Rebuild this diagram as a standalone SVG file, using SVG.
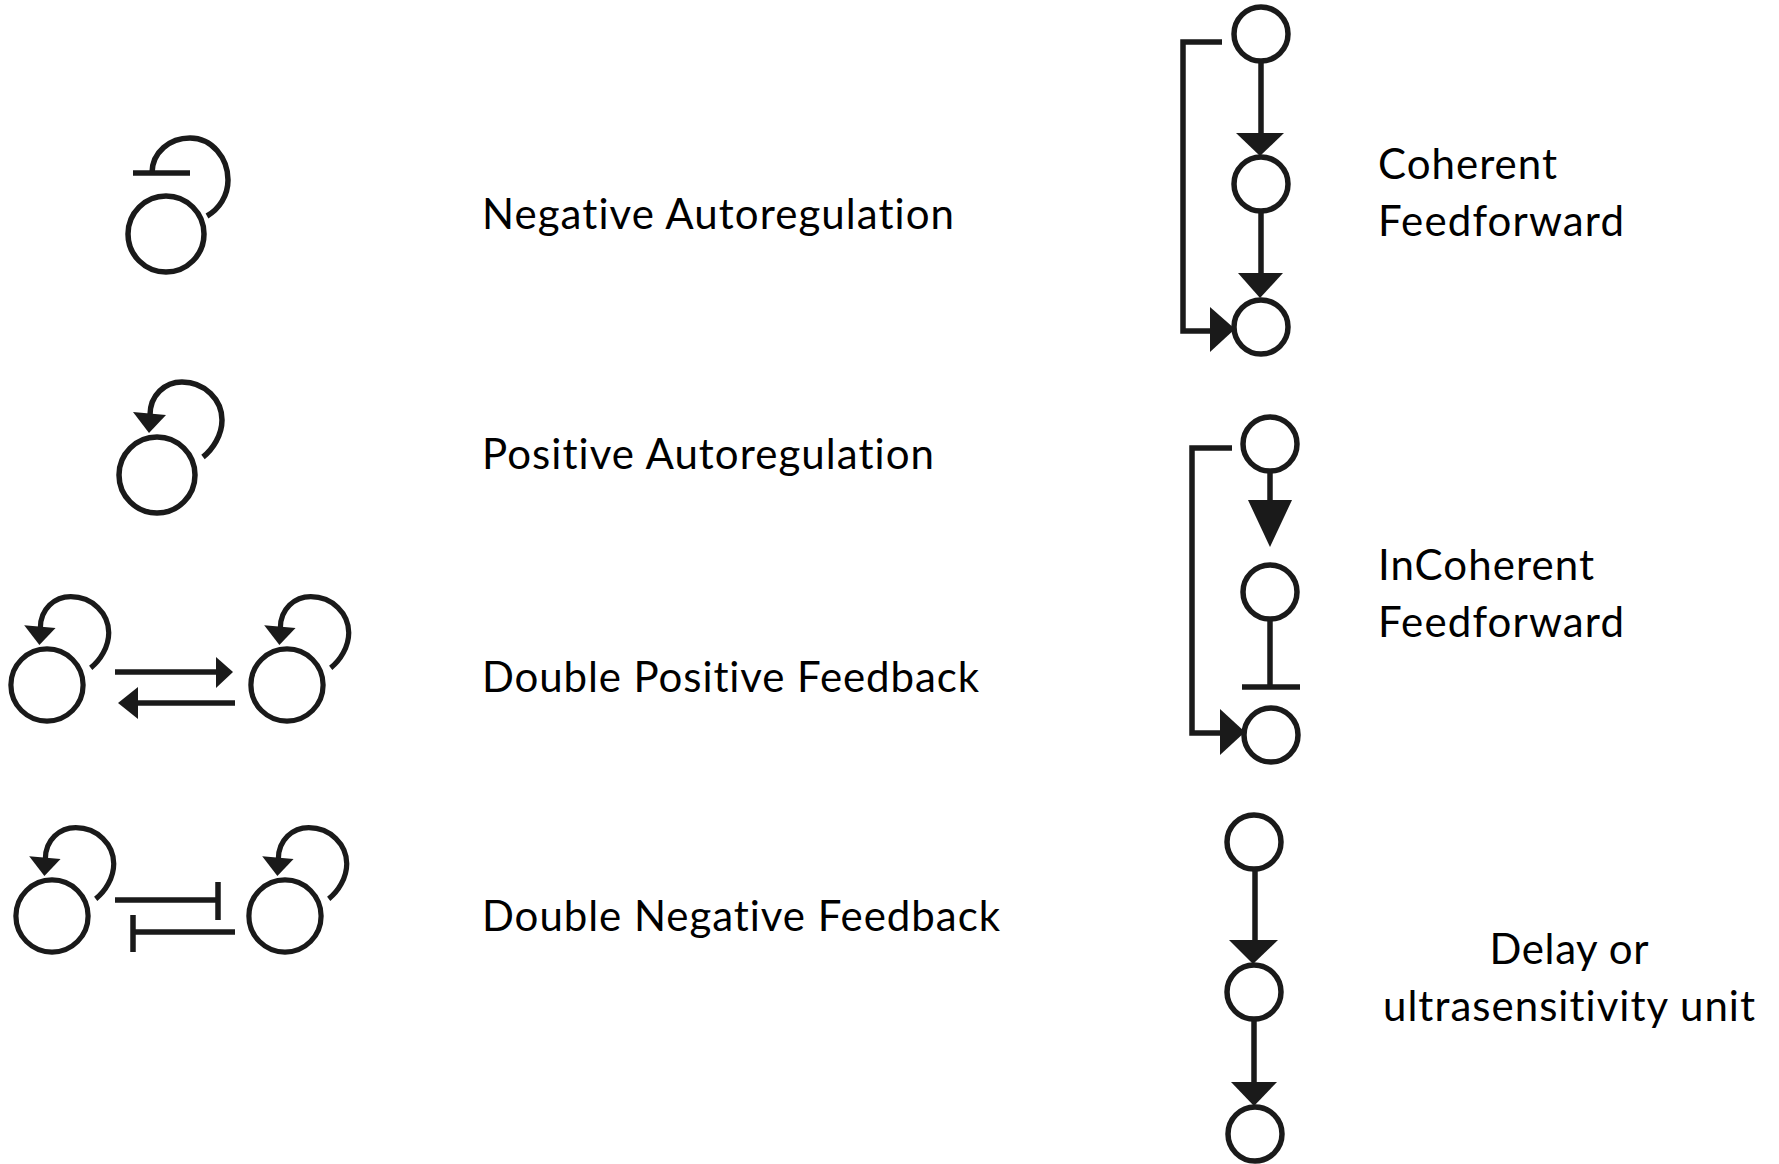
<svg xmlns="http://www.w3.org/2000/svg" xmlns:xlink="http://www.w3.org/1999/xlink" width="1779" height="1164" viewBox="0 0 1779 1164">
<style>
.ln{fill:none;stroke:#1a1a1a;stroke-width:5.5;stroke-linecap:butt;stroke-linejoin:miter}
.nd{fill:#fff;stroke:#1a1a1a;stroke-width:5.5}
.ah{fill:#1a1a1a;stroke:none}
.lb{font-family:Lato,"Open Sans","Liberation Sans",sans-serif;font-size:42px;fill:#000;font-variant-ligatures:none;font-feature-settings:"liga" 0,"clig" 0}
</style>
<defs>
<g id="posloop">
<circle class="nd" cx="0" cy="0" r="38"/>
<path class="ln" d="M-7,-60 C-7,-80 8,-93 25,-93 C48,-93 65,-75 65,-55 C65,-40 56,-26 46,-18"/>
<polygon class="ah" points="-24,-63 9,-60 -8,-42"/>
</g>
</defs>
<rect width="1779" height="1164" fill="#fff"/>

<g id="negative-autoregulation">
<circle class="nd" cx="166" cy="234" r="38"/>
<path class="ln" d="M152,173 C152,152 170,138 190,138 C212,138 228,158 228,180 C228,196 219,209 207,216"/>
<line class="ln" x1="133" y1="173" x2="190" y2="173"/>
</g>

<g id="positive-autoregulation">
<use xlink:href="#posloop" transform="translate(157,475)"/>
</g>

<g id="dpf-left"><use xlink:href="#posloop" transform="translate(47,685) scale(0.95)"/></g>
<g id="dpf-right"><use xlink:href="#posloop" transform="translate(287,685) scale(0.95)"/></g>
<g id="dnf-left"><use xlink:href="#posloop" transform="translate(52,916) scale(0.95)"/></g>
<g id="dnf-right"><use xlink:href="#posloop" transform="translate(285,916) scale(0.95)"/></g>

<g id="cff-a"><circle class="nd" cx="1261" cy="34" r="27"/></g>
<g id="cff-b"><circle class="nd" cx="1261" cy="184" r="27"/></g>
<g id="cff-c"><circle class="nd" cx="1261" cy="327" r="27"/></g>

<g id="iff-a"><circle class="nd" cx="1270" cy="444" r="27"/></g>
<g id="iff-b"><circle class="nd" cx="1270" cy="592" r="27"/></g>
<g id="iff-c"><circle class="nd" cx="1271" cy="735" r="27"/></g>

<g id="delay-a"><circle class="nd" cx="1254" cy="842" r="27"/></g>
<g id="delay-b"><circle class="nd" cx="1254" cy="992" r="27"/></g>
<g id="delay-c"><circle class="nd" cx="1255" cy="1134" r="27"/></g>

<g id="connectors">
<!-- double positive feedback -->
<line class="ln" x1="115" y1="672" x2="218" y2="672"/>
<polygon class="ah" points="216,657 233,672 216,688"/>
<line class="ln" x1="136" y1="703" x2="235" y2="703"/>
<polygon class="ah" points="138,687 118,703 138,719"/>
<!-- double negative feedback -->
<line class="ln" x1="115" y1="900" x2="218" y2="900"/>
<line class="ln" x1="218" y1="882" x2="218" y2="920"/>
<line class="ln" x1="133" y1="932" x2="235" y2="932"/>
<line class="ln" x1="133" y1="915" x2="133" y2="952"/>
<!-- coherent feedforward -->
<line class="ln" x1="1261" y1="61" x2="1261" y2="134"/>
<polygon class="ah" points="1236,133 1284,133 1260,156"/>
<line class="ln" x1="1261" y1="211" x2="1261" y2="274"/>
<polygon class="ah" points="1238,273 1283,273 1260,298"/>
<path class="ln" d="M1222,42 H1183 V331 H1212"/>
<polygon class="ah" points="1210,307 1210,352 1235,329"/>
<!-- incoherent feedforward -->
<line class="ln" x1="1270" y1="471" x2="1270" y2="501"/>
<polygon class="ah" points="1248,500 1292,500 1270,547"/>
<line class="ln" x1="1270" y1="619" x2="1270" y2="687"/>
<line class="ln" x1="1242" y1="687" x2="1300" y2="687"/>
<path class="ln" d="M1232,448 H1192 V733 H1222"/>
<polygon class="ah" points="1220,709 1220,755 1245,732"/>
<!-- delay unit -->
<line class="ln" x1="1255" y1="869" x2="1255" y2="941"/>
<polygon class="ah" points="1229,940 1278,940 1253,964"/>
<line class="ln" x1="1254" y1="1019" x2="1254" y2="1083"/>
<polygon class="ah" points="1231,1082 1277,1082 1254,1106"/>
</g>

<g id="labels">
<text class="lb" x="482" y="229" textLength="472">Negative Autoregulation</text>
<text class="lb" x="482" y="469" textLength="452">Positive Autoregulation</text>
<text class="lb" x="482" y="692" textLength="497">Double Positive Feedback</text>
<text class="lb" x="482" y="931" textLength="518">Double Negative Feedback</text>
<text class="lb" x="1378" y="179" textLength="179">Coherent</text>
<text class="lb" x="1378" y="236" textLength="246">Feedforward</text>
<text class="lb" x="1378" y="580" textLength="216">InCoherent</text>
<text class="lb" x="1378" y="637" textLength="246">Feedforward</text>
<text class="lb" x="1569" y="964" text-anchor="middle" textLength="159">Delay or</text>
<text class="lb" x="1569" y="1021" text-anchor="middle" textLength="372">ultrasensitivity unit</text>
</g>
</svg>
